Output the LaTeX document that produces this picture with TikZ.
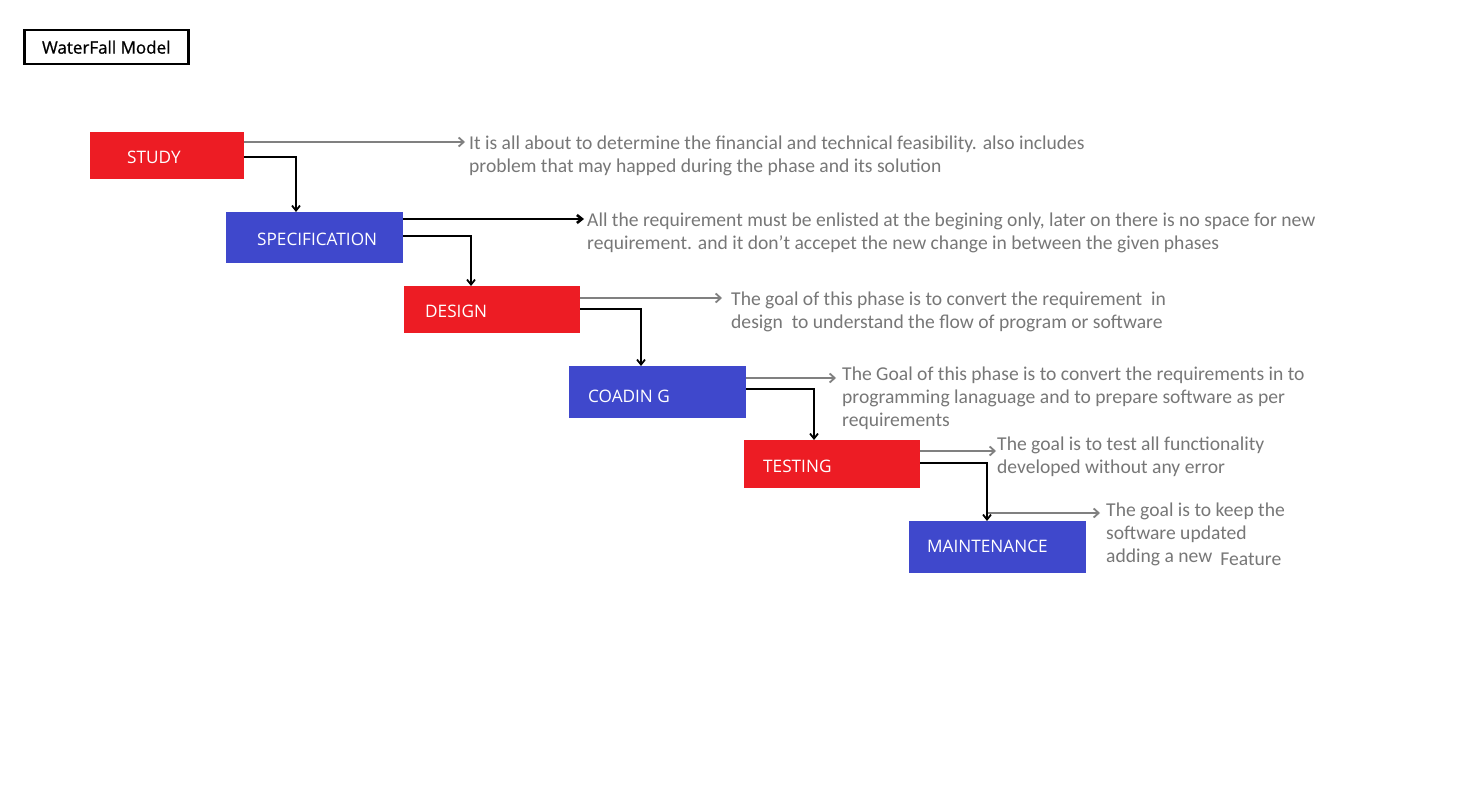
\documentclass[tikz,border=0pt]{standalone}
\usepackage{fontspec}
\setmainfont{Carlito}
\newfontfamily\labelfont{Open Sans}
\newfontfamily\titlefont[FakeBold=0.8]{Open Sans}
\usetikzlibrary{arrows.meta}
\definecolor{phasered}{HTML}{ED1C24}
\definecolor{phaseblue}{HTML}{3F48CC}
\definecolor{notegray}{HTML}{777777}
\definecolor{linegray}{HTML}{808080}
\begin{document}
\begin{tikzpicture}[x=1pt,y=-1pt,
  phase/.style={minimum width=#1, inner sep=0pt, anchor=north west},
  redphase/.style={phase=154pt, fill=phasered},
  bluephase/.style={phase=177pt, fill=phaseblue},
  note/.style={anchor=north west, inner sep=0pt, align=left, text=notegray, font=\fontsize{19.6}{23}\selectfont},
  flow/.style={draw=black, line width=1.8pt, -{Straight Barb[length=5pt,width=8pt]}},
  remark/.style={draw=linegray, line width=1.8pt, -{Straight Barb[length=5pt,width=9pt]}}
]
\useasboundingbox (0,0) rectangle (1484,800);
\fill[white] (0,0) rectangle (1484,800);

% title
\node[draw=black, line width=2.5pt, minimum width=164pt, minimum height=34pt, anchor=north west, inner sep=0pt,
      font=\titlefont\fontsize{17}{20}\selectfont] (title) at (23,29) {WaterFall Model};

% phase boxes
\node[redphase, minimum height=47pt] (study) at (90,132) {};
\node[bluephase, minimum height=51pt] (spec) at (226,212) {};
\node[redphase, minimum width=176pt, minimum height=47pt] (design) at (404,286) {};
\node[bluephase, minimum height=52pt] (coding) at (569,366) {};
\node[redphase, minimum width=176pt, minimum height=48pt] (testing) at (744,440) {};
\node[bluephase, minimum height=52pt] (maint) at (909,521) {};

% phase labels
\begin{scope}[every node/.style={anchor=west, inner sep=0pt, text=white, font=\labelfont\fontsize{17.2}{20}\selectfont}]
\node (studyl) at (127,157) {STUDY};
\node (specl) at (257,239) {SPECIFICATION};
\node (designl) at (425,311) {DESIGN};
\node (codingl) at (588,396) {COADIN G};
\node (testingl) at (763,466) {TESTING};
\node (maintl) at (927,546) {MAINTENANCE};
\end{scope}

% descriptions
\node[note] (n1) at (469,136) {It is all about to determine the financial and technical feasibility. also includes\\problem that may happed during the phase and its solution};
\node[note] (n2) at (587,213) {All the requirement must be enlisted at the begining only, later on there is no space for new\\requirement. and it don{\char"27}t accepet the new change in between the given phases};
\node[note] (n3) at (731,292) {The goal of this phase is to convert the requirement\ \ in\\design\ \ to understand the flow of program or software};
\node[note] (n4) at (842,367) {The Goal of this phase is to convert the requirements in to\\programming lanaguage and to prepare software as per\\requirements};
\node[note] (n5) at (997,437) {The goal is to test all functionality\\developed without any error};
\node[note] (n6) at (1106,503) {The goal is to keep the\\software updated\\adding a new\hspace{8pt}\raisebox{-3pt}{Feature}};

% descriptions are pointed at from each phase
\coordinate (tipA) at (465,142);
\coordinate (tipB) at (584,219);
\coordinate (tipC) at (722,298);
\coordinate (tipD) at (836,378);
\coordinate (tipE) at (996,451);
\coordinate (tipF) at (1100,513);
\draw[remark] (study.east |- tipA) -- (tipA);
\draw[flow, line width=2.6pt] (spec.east |- tipB) -- (tipB);
\draw[remark] (design.east |- tipC) -- (tipC);
\draw[remark] (coding.east |- tipD) -- (tipD);
\draw[remark] (testing.east |- tipE) -- (tipE);
\coordinate (mroot) at (987,513);
\draw[remark] (mroot) -- (tipF);

% flow from phase to phase
\coordinate (jA) at (296,157);
\coordinate (jB) at (471,236);
\coordinate (jC) at (641,309);
\coordinate (jD) at (814,389);
\coordinate (jE) at (987,463);
\draw[flow] (study.east |- jA) -| (spec.north -| jA);
\draw[flow] (spec.east |- jB) -| (design.north -| jB);
\draw[flow] (design.east |- jC) -| (coding.north -| jC);
\draw[flow] (coding.east |- jD) -| (testing.north -| jD);
\draw[flow] (testing.east |- jE) -| (maint.north -| jE);
\end{tikzpicture}
\end{document}
